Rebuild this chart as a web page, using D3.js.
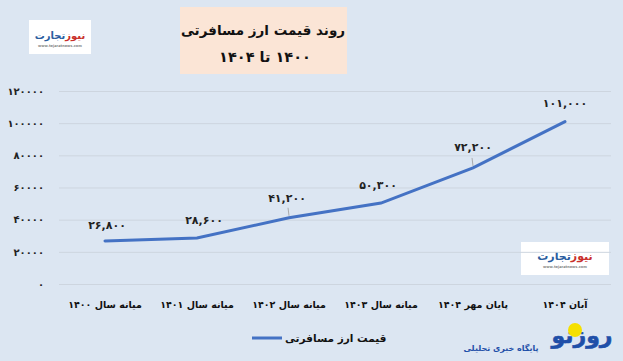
<!DOCTYPE html>
<html>
<head>
<meta charset="utf-8">
<script src="https://cdn.jsdelivr.net/npm/d3@7"></script>
<style>
  body { margin: 0; background: #dce6f2; }
  svg text { font-family: "DejaVu Sans", sans-serif; font-weight: bold; }
</style>
</head>
<body>
<div id="chart-area"></div>
<script>
// data
const categories = ["میانه سال ۱۴۰۰", "میانه سال ۱۴۰۱", "میانه سال ۱۴۰۲", "میانه سال ۱۴۰۳", "پایان مهر ۱۴۰۴", "آبان ۱۴۰۴"]
const prices = [26800, 28600, 41200, 50300, 72200, 101000]
const yTicks = [0, 20000, 40000, 60000, 80000, 100000, 120000]
const seriesName = "قیمت ارز مسافرتی"

const W = 623, H = 361
const MARGIN = { LEFT: 59, RIGHT: 12, TOP: 91, BOTTOM: 77 }
const WIDTH = W - MARGIN.LEFT - MARGIN.RIGHT
const HEIGHT = H - MARGIN.TOP - MARGIN.BOTTOM

// latin digits -> persian digits
const fa = s => String(s).replace(/\d/g, c => "۰۱۲۳۴۵۶۷۸۹"[c])

const svg = d3.select("#chart-area").append("svg")
  .attr("width", W)
  .attr("height", H)

svg.append("rect").attr("width", W).attr("height", H).attr("fill", "#dce6f2")

// title box
svg.append("rect")
  .attr("x", 180).attr("y", 7).attr("width", 167).attr("height", 67)
  .attr("fill", "#fbe5d6")
svg.append("text")
  .attr("x", 263).attr("y", 35)
  .attr("direction", "rtl")
  .attr("text-anchor", "middle")
  .attr("font-size", "13.5px")
  .attr("fill", "#111")
  .text("روند قیمت ارز مسافرتی")
svg.append("text")
  .attr("x", 265).attr("y", 62)
  .attr("direction", "rtl")
  .attr("text-anchor", "middle")
  .attr("font-size", "14.5px")
  .attr("fill", "#111")
  .text(fa(1400) + " تا " + fa(1404))

// small logo boxes
function logo(x, y, w, h, size) {
  svg.append("rect").attr("x", x).attr("y", y).attr("width", w).attr("height", h).attr("fill", "#fff")
  const t = svg.append("text")
    .attr("x", x + w / 2).attr("y", y + h * 0.55)
    .attr("text-anchor", "middle")
    .attr("font-size", size + "px")
  t.append("tspan").attr("fill", "#c9302c").text("نیوز")
  t.append("tspan").attr("fill", "#2a5d9f").text("تجارت")
  svg.append("text")
    .attr("x", x + w / 2).attr("y", y + h * 0.8)
    .attr("text-anchor", "middle")
    .attr("font-size", "3.5px")
    .attr("font-weight", "normal")
    .attr("fill", "#888")
    .text("www.tejaratnews.com")
}
logo(29, 20, 62, 34, 10)
logo(521, 242, 88, 33, 11)

const g = svg.append("g")
  .attr("transform", `translate(${MARGIN.LEFT}, ${MARGIN.TOP})`)

const x = d3.scaleBand()
  .domain(categories)
  .range([0, WIDTH])

const y = d3.scaleLinear()
  .domain([0, 120000])
  .range([HEIGHT, 0])

// grid
g.append("g")
  .attr("class", "grid")
  .call(d3.axisLeft(y).tickValues(yTicks).tickSize(-WIDTH).tickFormat(""))
  .call(a => a.select(".domain").remove())
  .selectAll("line")
  .attr("stroke", "#cdd5df")

// y axis labels
const yAxisGroup = g.append("g")
  .call(d3.axisLeft(y).tickValues(yTicks).tickSize(0).tickPadding(15).tickFormat(d => fa(d)))
yAxisGroup.select(".domain").remove()
yAxisGroup.selectAll("text")
  .attr("font-size", "10px")
  .attr("fill", "#222")
  .style("font-family", "DejaVu Sans")
  .style("font-weight", "bold")

// x axis labels
const xAxisGroup = g.append("g")
  .attr("transform", `translate(0, ${HEIGHT})`)
  .call(d3.axisBottom(x).tickSize(0).tickPadding(17))
xAxisGroup.select(".domain").remove()
xAxisGroup.selectAll("text")
  .attr("direction", "rtl")
  .attr("font-size", "9.5px")
  .attr("fill", "#111")
  .style("font-family", "DejaVu Sans")
  .style("font-weight", "bold")

const cx = d => x(d) + x.bandwidth() / 2

// line
const line = d3.line()
  .x((d, i) => cx(categories[i]))
  .y(d => y(d))

g.append("path")
  .datum(prices)
  .attr("fill", "none")
  .attr("stroke", "#4472c4")
  .attr("stroke-width", 3)
  .attr("stroke-linecap", "round")
  .attr("d", line)

// data labels
const labelOffset = [[2, -12], [7, -14], [-2, -16], [-3, -14], [0, -17], [0, -15]]
const leaders = [false, false, true, false, true, false]

g.selectAll(".leader")
  .data(d3.range(prices.length).filter(i => leaders[i]))
  .enter().append("line")
  .attr("class", "leader")
  .attr("x1", i => cx(categories[i]) - 1)
  .attr("x2", i => cx(categories[i]))
  .attr("y1", i => y(prices[i]) - 10)
  .attr("y2", i => y(prices[i]) - 2)
  .attr("stroke", "#999")
  .attr("stroke-width", 0.8)

g.selectAll(".dlabel")
  .data(prices)
  .enter().append("text")
  .attr("class", "dlabel")
  .attr("x", (d, i) => cx(categories[i]) + labelOffset[i][0])
  .attr("y", (d, i) => y(d) + labelOffset[i][1])
  .attr("text-anchor", "middle")
  .attr("font-size", "11px")
  .attr("fill", "#222")
  .text(d => fa(d3.format(",")(d)))

// legend
svg.append("line")
  .attr("x1", 252).attr("x2", 282)
  .attr("y1", 338).attr("y2", 338)
  .attr("stroke", "#4472c4")
  .attr("stroke-width", 3)
svg.append("text")
  .attr("x", 285).attr("y", 342)
  .attr("text-anchor", "start")
  .attr("font-size", "10.5px")
  .attr("fill", "#111")
  .text(seriesName)

// bottom-right watermark
svg.append("text")
  .attr("x", 582).attr("y", 343)
  .attr("text-anchor", "middle")
  .attr("font-size", "22px")
  .attr("fill", "#1f4fa8")
  .attr("stroke", "#1f4fa8")
  .attr("stroke-width", 0.6)
  .text("روزنو")
svg.append("circle")
  .attr("cx", 575).attr("cy", 330).attr("r", 7)
  .attr("fill", "#f5e000")
svg.append("text")
  .attr("x", 501).attr("y", 351)
  .attr("text-anchor", "middle")
  .attr("font-size", "8px")
  .attr("fill", "#1f4fa8")
  .text("پایگاه خبری تحلیلی")
</script>
</body>
</html>
